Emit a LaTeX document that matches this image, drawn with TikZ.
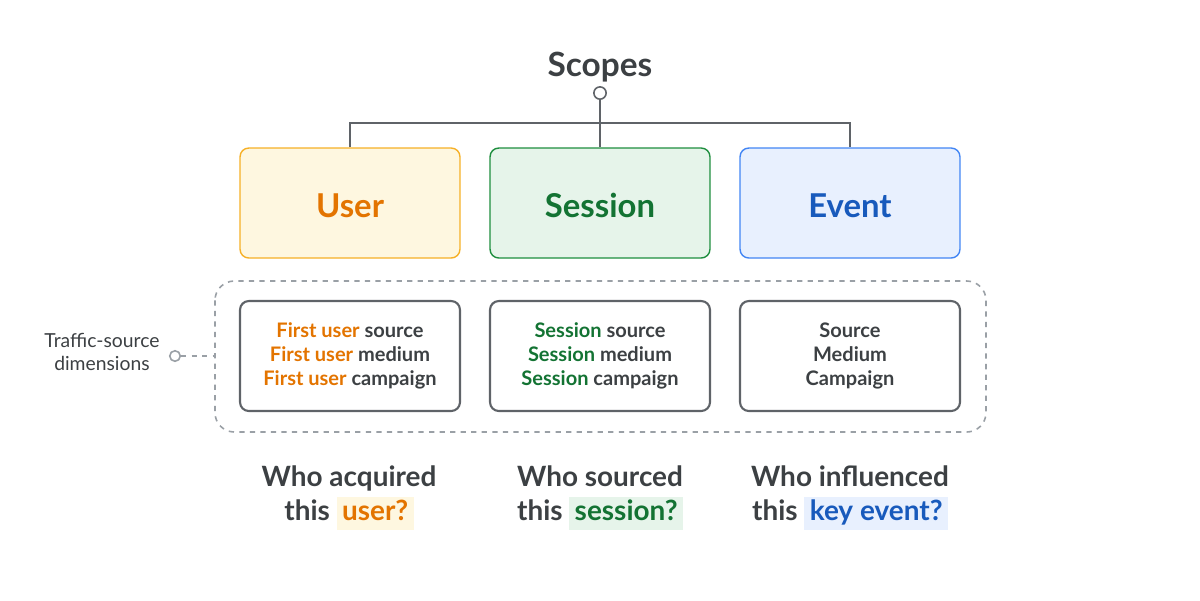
\documentclass[tikz,border=0pt]{standalone}
\usepackage{fontspec}
\setmainfont{Lato}
\usepackage{tikz}
\usetikzlibrary{positioning}

\definecolor{ink}{HTML}{3C4043}
\definecolor{wire}{HTML}{5F6368}
\definecolor{frameln}{HTML}{9AA0A6}
\definecolor{userfg}{HTML}{E37400}
\definecolor{userln}{HTML}{F6B026}
\definecolor{userbg}{HTML}{FEF7E0}
\definecolor{sessfg}{HTML}{137333}
\definecolor{sessln}{HTML}{1E8E3E}
\definecolor{sessbg}{HTML}{E6F4EA}
\definecolor{evfg}{HTML}{185ABC}
\definecolor{evln}{HTML}{4285F4}
\definecolor{evbg}{HTML}{E8F0FE}

\newcommand{\hl}[3]{\colorbox{#1}{\hspace{3pt}\strut\color{#2}#3\hspace{3pt}}}

\begin{document}
\begin{tikzpicture}[x=0.02cm,y=-0.02cm,every node/.style={text=ink}]
			\tikzstyle{scope} = [rounded corners=5pt,line width=0.8pt,minimum width=4.4cm,minimum height=2.2cm,text height=16.9pt,text depth=0pt,font=\fontsize{18.7}{22}\bfseries]
			\tikzstyle{dims} = [draw=wire,rounded corners=5pt,line width=1.2pt,minimum width=4.4cm,minimum height=2.2cm,align=center,font=\fontsize{11.4}{13.6}\bfseries]
			\tikzstyle{ask} = [align=center,font=\fontsize{15.9}{19.3}\bfseries,inner sep=0pt]
			\tikzstyle{pin} = [circle,draw=wire,fill=white,line width=0.9pt,inner sep=0pt,minimum size=7pt]
			\setlength{\fboxsep}{0pt}
			\useasboundingbox (0,0) rectangle (1200,600);

			\node[font=\fontsize{19}{22}\bfseries] (scopes) at (600,67) {Scopes};

			\node[scope,draw=userln,fill=userbg,text=userfg] (user) at (350,203) {User};
			\node[scope,draw=sessln,fill=sessbg,text=sessfg] (session) at (600,203) {Session};
			\node[scope,draw=evln,fill=evbg,text=evfg] (event) at (850,203) {Event};

			\draw[frameln,dashed,line width=0.9pt,rounded corners=11pt] (215,281) rectangle (986,432);
			\coordinate (frame) at (215,356);

			\node[dims] (userdims) at (350,356) {\color{userfg}First user \color{ink}source\\\color{userfg}First user \color{ink}medium\\\color{userfg}First user \color{ink}campaign};
			\node[dims] (sessdims) at (600,356) {\color{sessfg}Session \color{ink}source\\\color{sessfg}Session \color{ink}medium\\\color{sessfg}Session \color{ink}campaign};
			\node[dims] (evdims) at (850,356) {Source\\Medium\\Campaign};

			\node[align=center,font=\fontsize{11}{13}\selectfont] (label) at (102,352) {Traffic-source\\dimensions};
			\node[pin,draw=frameln,minimum size=6pt] (lpin) at (175,356) {};
			\draw[frameln,dashed,line width=0.9pt] (lpin) -- (frame);

			\node[ask] (askuser) at (349,498) {Who acquired\\this \hl{userbg}{userfg}{user?}};
			\node[ask] (asksess) at (600,498) {Who sourced\\this \hl{sessbg}{sessfg}{session?}};
			\node[ask] (askev) at (850,498) {Who influenced\\this \hl{evbg}{evfg}{key event?}};

			% tree from the scopes title
			\node[pin] (top) at (600,93) {};
			\draw[wire,line width=1.2pt] (top) -- (session.north);
			\draw[wire,line width=1.2pt] (user.north) -- ++(0,-24) -| (event.north);
		\end{tikzpicture}
\end{document}
